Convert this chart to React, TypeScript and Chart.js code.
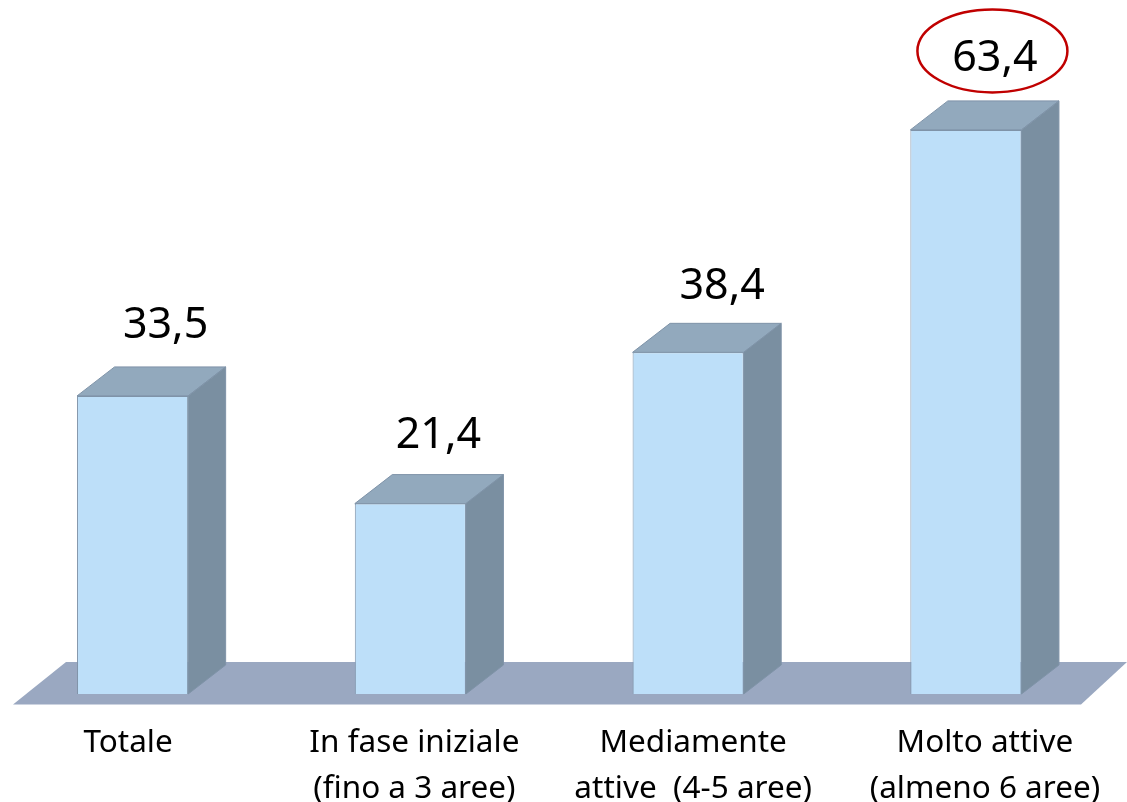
import React, { useEffect, useRef } from "react";
import { Chart, registerables } from "chart.js";

Chart.register(...registerables);

const categories: string[][] = [
  ["Totale"],
  ["In fase iniziale", "(fino a 3 aree)"],
  ["Mediamente", "attive  (4-5 aree)"],
  ["Molto attive", "(almeno 6 aree)"],
];
const values: number[] = [33.5, 21.4, 38.4, 63.4];
const highlighted: number[] = [3];

const tickShift: number[] = [-4.5, 4, 5, 19];
const labelShiftX: number[] = [33, 28, 34, 29];
const labelShiftY: number[] = [-70, -68, -66, -71];

const CANVAS_SHIFT = 7;
const DEPTH_X = 37.5;
const DEPTH_Y = 29;
const FRONT = "#BDDFF9";
const TOP = "#92A9BD";
const SIDE = "#7A8FA1";
const FLOOR = "#9AA8C1";
const EDGE = "#7F93A8";
const FONT = '"Noto Sans"';

const shifted = new WeakSet<object>();

const bar3d = {
  id: "bar3d",
  beforeDraw(chart: any) {
    const items = chart.scales.x.getLabelItems(chart.chartArea);
    if (shifted.has(items)) return;
    shifted.add(items);
    items.forEach((item: any) => {
      const idx = chart.scales.x.getValueForPixel(item.options.translation[0]);
      item.options.translation[0] += tickShift[idx] ?? 0;
    });
  },
  beforeDatasetsDraw(chart: any) {
    const { ctx } = chart;
    const base = chart.scales.y.getPixelForValue(0);
    ctx.save();
    ctx.fillStyle = FLOOR;
    ctx.beginPath();
    ctx.moveTo(13 + CANVAS_SHIFT, base + 10.5);
    ctx.lineTo(1081 + CANVAS_SHIFT, base + 10.5);
    ctx.lineTo(1127 + CANVAS_SHIFT, base - 32);
    ctx.lineTo(66 + CANVAS_SHIFT, base - 32);
    ctx.closePath();
    ctx.fill();
    ctx.strokeStyle = EDGE;
    ctx.lineWidth = 1;
    chart.getDatasetMeta(0).data.forEach((bar: any) => {
      const left = bar.x - bar.width / 2;
      const right = bar.x + bar.width / 2;
      ctx.fillStyle = TOP;
      ctx.beginPath();
      ctx.moveTo(left, bar.y);
      ctx.lineTo(left + DEPTH_X, bar.y - DEPTH_Y);
      ctx.lineTo(right + DEPTH_X, bar.y - DEPTH_Y);
      ctx.lineTo(right, bar.y);
      ctx.closePath();
      ctx.fill();
      ctx.stroke();
      ctx.fillStyle = SIDE;
      ctx.beginPath();
      ctx.moveTo(right, bar.y);
      ctx.lineTo(right + DEPTH_X, bar.y - DEPTH_Y);
      ctx.lineTo(right + DEPTH_X, base - DEPTH_Y);
      ctx.lineTo(right, base);
      ctx.closePath();
      ctx.fill();
      ctx.stroke();
    });
    ctx.restore();
  },
  afterDatasetsDraw(chart: any) {
    const { ctx } = chart;
    ctx.save();
    ctx.textAlign = "center";
    ctx.textBaseline = "middle";
    ctx.fillStyle = "#000000";
    ctx.font = `43px ${FONT}`;
    chart.getDatasetMeta(0).data.forEach((bar: any, i: number) => {
      const x = bar.x + labelShiftX[i];
      const y = bar.y + labelShiftY[i];
      ctx.fillText(values[i].toFixed(1).replace(".", ","), x, y);
      if (highlighted.includes(i)) {
        ctx.strokeStyle = "#C00000";
        ctx.lineWidth = 2.5;
        ctx.beginPath();
        ctx.ellipse(x - 2.5, y - 8, 75, 41.5, 0, 0, Math.PI * 2);
        ctx.stroke();
      }
    });
    ctx.restore();
  },
};

export default function App() {
  const ref = useRef<HTMLCanvasElement>(null);
  useEffect(() => {
    if (!ref.current) return;
    const chart = new Chart(ref.current, {
      type: "bar",
      data: {
        labels: categories,
        datasets: [
          {
            data: values,
            backgroundColor: FRONT,
            borderColor: EDGE,
            borderWidth: 1,
            categoryPercentage: 1,
            barPercentage: 0.4,
          },
        ],
      },
      options: {
        animation: false,
        responsive: false,
        layout: { padding: { left: 0.7, right: 22.2, top: 0, bottom: 0 } },
        plugins: { legend: { display: false }, tooltip: { enabled: false } },
        scales: {
          x: {
            grid: { display: false },
            border: { display: false },
            afterFit: (s: any) => {
              s.height = 108;
            },
            ticks: {
              color: "#000000",
              autoSkip: false,
              maxRotation: 0,
              minRotation: 0,
              padding: 19,
              font: { family: "Noto Sans", size: 31.5, lineHeight: 1.43 },
            },
          },
          y: { display: false, min: 0, max: 78 },
        },
      },
      plugins: [bar3d],
    } as any);
    return () => chart.destroy();
  }, []);
  return (
    <div style={{ position: "absolute", left: 0, top: 0, width: 1127, height: 802, overflow: "hidden" }}>
      <canvas
        ref={ref}
        width={1127 + CANVAS_SHIFT}
        height={802}
        style={{ display: "block", position: "absolute", left: -CANVAS_SHIFT, top: 0 }}
      />
    </div>
  );
}
